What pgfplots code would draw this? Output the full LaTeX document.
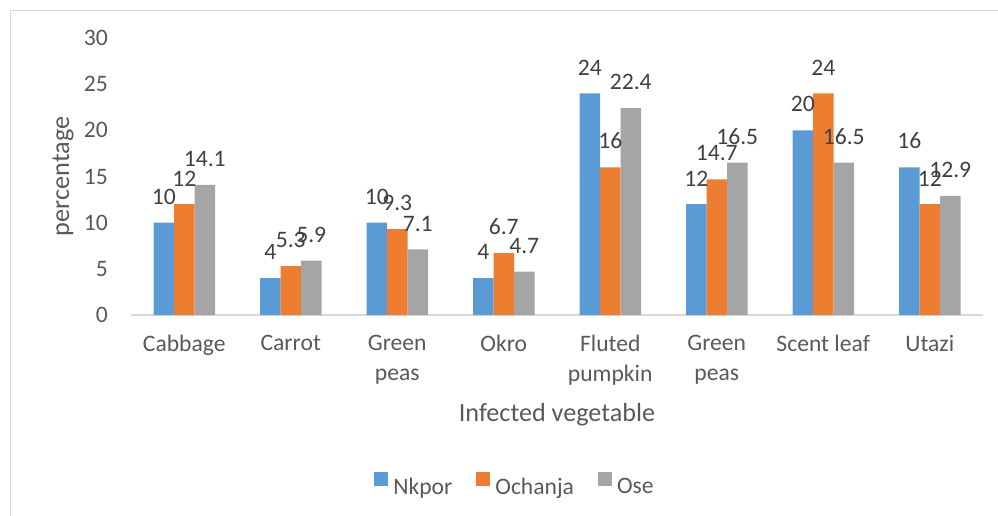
\documentclass[border=0pt]{standalone}
\usepackage{pgfplots}
\pgfplotsset{compat=1.18}
\usepackage{fontspec}
\setmainfont{Carlito}
\definecolor{cblue}{HTML}{5B9BD5}
\definecolor{corange}{HTML}{ED7D31}
\definecolor{cgray}{HTML}{A5A5A5}
\definecolor{txt}{HTML}{595959}
\definecolor{lbl}{HTML}{404040}
\definecolor{axl}{HTML}{D9D9D9}
\newcommand\tk{\fontsize{23.6}{29.5}\selectfont}
\newcommand\ti{\fontsize{26.2}{31}\selectfont}
\begin{document}
\begin{tikzpicture}
\useasboundingbox (0,0) rectangle (998pt,515pt);
\draw[axl,line width=1.3pt] (10.5pt,-10pt) -- (10.5pt,504.5pt) -- (1010pt,504.5pt);
\begin{axis}[
 at={(131pt,200pt)}, anchor=south west,
 scale only axis, width=852pt, height=277pt,
 ybar=0pt, bar width=20.5pt,
 xmin=-0.5, xmax=7.5, ymin=0, ymax=30,
 xtick={0,...,7},
 xticklabels={Cabbage, Carrot, {Green\\peas}, Okro, {Fluted\\pumpkin}, {Green\\peas}, Scent leaf, Utazi},
 ytick={0,5,...,30},
 axis x line*=bottom, axis y line*=left,
 y axis line style={draw=none},
 x axis line style={draw=axl, line width=1.3pt},
 major tick length=0pt,
 tick label style={font=\tk, text=txt, inner sep=0pt},
 xticklabel style={align=center, anchor=north, yshift=-20pt},
 yticklabel style={anchor=east, xshift=-23pt},
 /pgf/number format/assume math mode=true,
 xlabel={Infected vegetable}, ylabel={percentage},
 label style={font=\ti, text=txt},
 xlabel style={at={(axis description cs:0.5,-0.36)}, anchor=center},
 ylabel style={at={(axis description cs:-0.0798,0.5)}, anchor=center},
 nodes near coords,
 every node near coord/.append style={font=\tk, text=lbl, inner sep=0pt, anchor=south, yshift=18pt},
 legend style={at={(axis description cs:0.4507,-0.6137)}, anchor=center, draw=none, fill=none,
   legend columns=3, font=\tk, text=txt, inner sep=0pt,
   /tikz/every odd column/.append style={column sep=3pt},
   /tikz/every even column/.append style={column sep=22pt}},
 legend image code/.code={\fill[#1] (0pt,0.5pt) rectangle (14pt,14.5pt);},
]
\addplot[fill=cblue, draw=none] coordinates {(0,10)(1,4)(2,10)(3,4)(4,24)(5,12)(6,20)(7,16)};
\addplot[fill=corange, draw=none] coordinates {(0,12)(1,5.3)(2,9.3)(3,6.7)(4,16)(5,14.7)(6,24)(7,12)};
\addplot[fill=cgray, draw=none] coordinates {(0,14.1)(1,5.9)(2,7.1)(3,4.7)(4,22.4)(5,16.5)(6,16.5)(7,12.9)};
\legend{Nkpor, Ochanja, Ose}
\end{axis}
\end{tikzpicture}
\end{document}
